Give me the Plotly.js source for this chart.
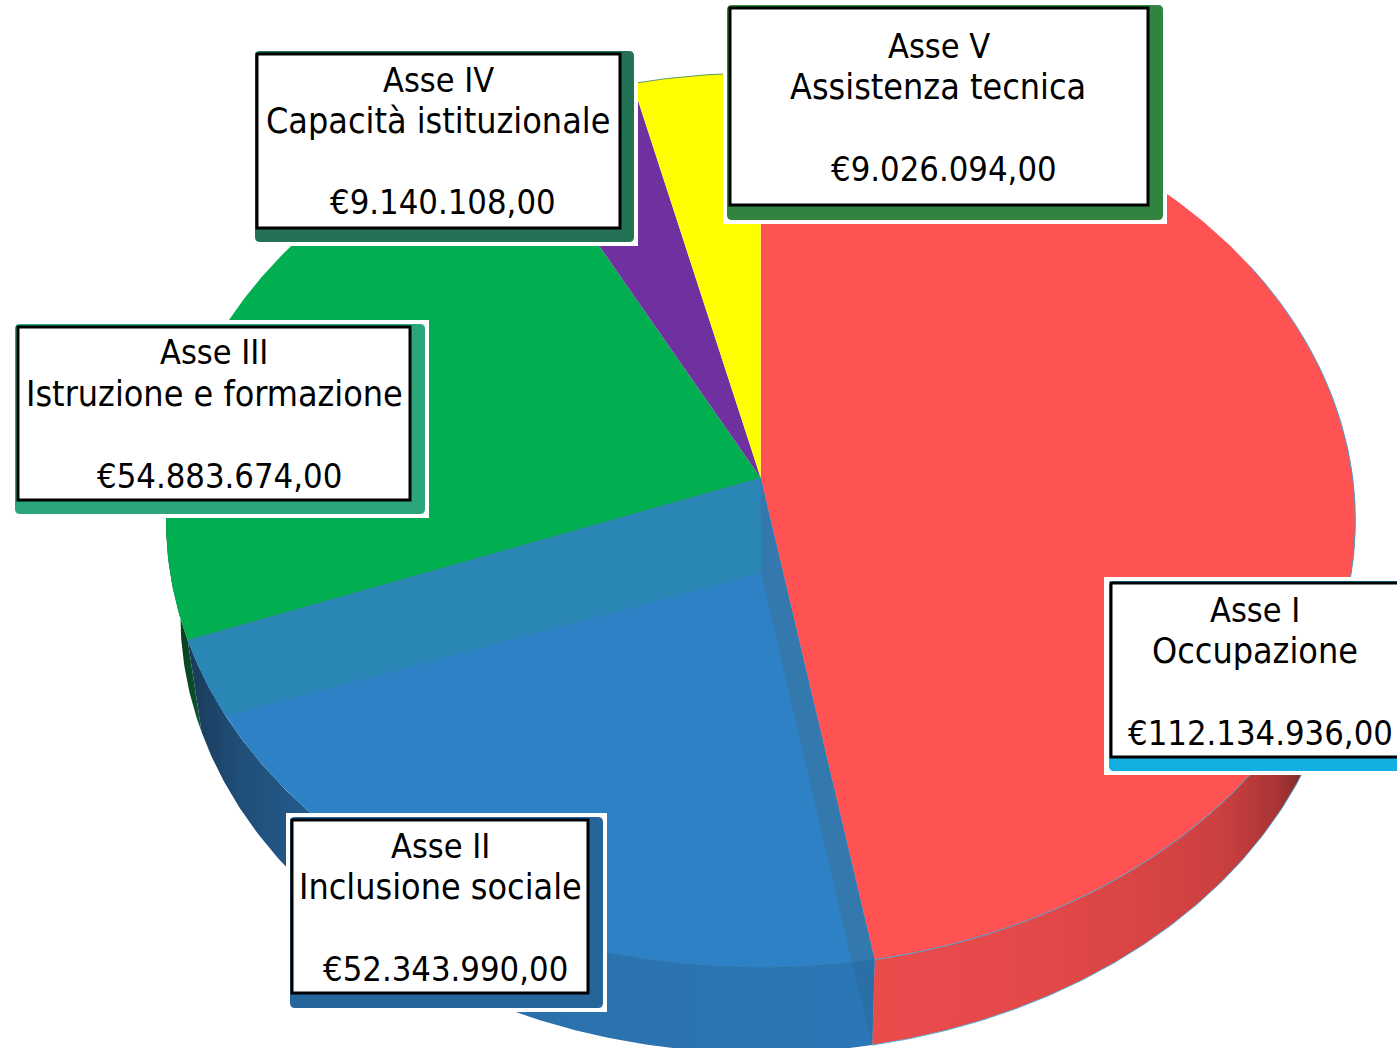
<!DOCTYPE html>
<html>
<head>
<meta charset="utf-8">
<script src="https://cdn.plot.ly/plotly-3.0.1.min.js"></script>
<style>html,body{margin:0;padding:0;background:#fff}#chart{width:1397px;height:1048px}</style>
</head>
<body>
<div id="chart"></div>
<script>
const axisNames = ['Asse I', 'Asse II', 'Asse III', 'Asse IV', 'Asse V'];
const axisTopics = ['Occupazione', 'Inclusione sociale', 'Istruzione e formazione', 'Capacità istituzionale', 'Assistenza tecnica'];
const amounts = [112134936, 52343990, 54883674, 9140108, 9026094];
const amountLabels = ['€112.134.936,00', '€52.343.990,00', '€54.883.674,00', '€9.140.108,00', '€9.026.094,00'];
const sliceColors = ['#FF5252', '#2E81C4', '#02AF50', '#7030A0', '#FFFF00'];
const shadowColors = ['#12B0E0', '#26649C', '#2AA67A', '#237256', '#31843F'];

const FONT = '"DejaVu Sans Condensed", "DejaVu Sans", sans-serif';
const LINE_SIZES = [34, 35.6, 34.3];
/* view projection of the tilted disc */
const TOP = {cx: 760.7, cy: 478, ax: 592, ay: 443.5};
const BOTTOM = {cx: 761, cy: 573, ax: 578, ay: 434.6};
const K = 0.095;

function rim(deg, p) {
  const t = deg * Math.PI / 180, u = Math.sin(t), v = Math.cos(t), w = 1 + K * v;
  return [p.cx + p.ax * u / w, p.cy - p.ay * v / w];
}
function arc(a, b, p) {
  const n = Math.max(2, Math.ceil(Math.abs(b - a) * 2)), out = [];
  for (let i = 0; i <= n; i++) out.push(rim(a + (b - a) * i / n, p));
  return out;
}
function poly(pts, color, extra) {
  return Object.assign({
    type: 'scatter', mode: 'lines', x: pts.map(q => q[0]), y: pts.map(q => q[1]),
    fill: 'toself', fillcolor: color, line: {width: 0}, hoverinfo: 'skip', showlegend: false
  }, extra || {});
}
function stroke(pts, color, width) {
  return {type: 'scatter', mode: 'lines', x: pts.map(q => q[0]), y: pts.map(q => q[1]),
    line: {color: color, width: width}, hoverinfo: 'skip', showlegend: false};
}
function grad(stops) {
  return {fillgradient: {type: 'horizontal', colorscale: stops}};
}

const total = amounts.reduce((a, b) => a + b, 0);
const edges = [0];
amounts.forEach(v => edges.push(edges[edges.length - 1] + v / total * 360));

const apex = [TOP.cx, TOP.cy], apexLow = [BOTTOM.cx, BOTTOM.cy];
const traces = [];

/* side walls */
traces.push(poly(arc(edges[2], 275, TOP).concat(arc(275, edges[2], BOTTOM)), '#0A3A20',
  grad([[0, '#062A14'], [1, '#0C5A30']])));
traces.push(poly(arc(edges[1], edges[2], TOP).concat(arc(edges[2], edges[1], BOTTOM)), '#2B77B5',
  grad([[0, '#1B3A58'], [0.07, '#1F4D76'], [0.2, '#245F92'], [0.38, '#2A70AA'], [1, '#2B77B5']])));
traces.push(poly(arc(edges[0] + 85, edges[1], TOP).concat(arc(edges[1], edges[0] + 85, BOTTOM)), '#E04848',
  grad([[0, '#EA4C4C'], [0.35, '#E34848'], [0.6, '#D64343'], [0.72, '#CC4040'], [0.84, '#A83434'], [0.9, '#7A2A2A'], [1, '#6E2222']])));

/* top faces */
for (let i = 0; i < amounts.length; i++) {
  traces.push(poly([apex].concat(arc(edges[i], edges[i + 1], TOP)), sliceColors[i]));
}

/* inner walls of the second slice */
const wallStart = edges[1] + 2, wallEnd = edges[2] - 10;
traces.push(poly([apex, apexLow].concat(arc(wallEnd, edges[2], TOP)), '#2A86B5'));
traces.push(poly([apex, apexLow].concat(arc(wallStart, edges[1], TOP)), '#3479AE'));
traces.push(poly([rim(wallStart, TOP), rim(edges[1], TOP), rim(edges[1], BOTTOM)], '#2B6FA8'));

/* rim and edge lines */
traces.push(stroke(arc(edges[1], 60, TOP), '#4FA3CC', 1));
traces.push(stroke(arc(edges[1], 100, BOTTOM), '#58B0D6', 1));
traces.push(stroke(arc(edges[1], edges[1] + 40, TOP), '#2A70A5', 1));
traces.push(stroke([rim(edges[2], TOP), apex], '#2A8A9A', 1));
traces.push(stroke(arc(edges[4], 360, TOP), '#5B9B6B', 1));

/* label boxes: halo, shadow, frame */
const boxes = [
  {halo: [1104, 577, 1420, 775], shadow: [1109, 581, 1420, 771], frame: [1111, 583, 1420, 757], lines: [[1255, 609.5], [1255, 650], [1260, 732.5]]},
  {halo: [286, 813, 607, 1012], shadow: [290, 817, 603, 1008], frame: [292, 820, 588, 993], lines: [[440, 845.5], [440, 886], [445, 968.5]]},
  {halo: [11, 320, 429, 518], shadow: [15, 324, 425, 514], frame: [18, 327, 410, 500], lines: [[214, 351.5], [214, 393], [219, 475.5]]},
  {halo: [252, 48, 638, 246], shadow: [255, 51, 634, 242], frame: [257, 54, 620, 228], lines: [[438, 79.5], [438, 120], [443, 201.5]]},
  {halo: [723, 2, 1167, 224], shadow: [727, 5, 1163, 220], frame: [730, 8, 1148, 205], lines: [[939, 45.5], [938, 86], [944, 168.5]]}
];
function rounded(b, r) {
  const [x0, y0, x1, y1] = b;
  return `M${x0 + r},${y0} L${x1 - r},${y0} Q${x1},${y0} ${x1},${y0 + r} L${x1},${y1 - r} Q${x1},${y1} ${x1 - r},${y1} L${x0 + r},${y1} Q${x0},${y1} ${x0},${y1 - r} L${x0},${y0 + r} Q${x0},${y0} ${x0 + r},${y0} Z`;
}
const shapes = [], annotations = [];
boxes.forEach((b, i) => {
  shapes.push({type: 'rect', xref: 'x', yref: 'y', x0: b.halo[0], y0: b.halo[1], x1: b.halo[2], y1: b.halo[3], fillcolor: '#FFFFFF', line: {width: 0}, layer: 'above'});
  shapes.push({type: 'path', xref: 'x', yref: 'y', path: rounded(b.shadow, 5), fillcolor: shadowColors[i], line: {width: 0}, layer: 'above'});
  shapes.push({type: 'rect', xref: 'x', yref: 'y', x0: b.frame[0], y0: b.frame[1], x1: b.frame[2], y1: b.frame[3], fillcolor: '#FFFFFF', line: {color: '#000000', width: 3}, layer: 'above'});
  [axisNames[i], axisTopics[i], amountLabels[i]].forEach((t, j) => {
    annotations.push({xref: 'x', yref: 'y', x: b.lines[j][0], y: b.lines[j][1], text: t, showarrow: false,
      xanchor: 'center', yanchor: 'middle', font: {family: FONT, size: LINE_SIZES[j], color: '#000000'}});
  });
});

Plotly.newPlot('chart', traces, {
  width: 1397, height: 1048, autosize: false,
  margin: {l: 0, r: 0, t: 0, b: 0},
  paper_bgcolor: '#FFFFFF', plot_bgcolor: '#FFFFFF',
  showlegend: false,
  xaxis: {range: [0, 1397], visible: false, fixedrange: true},
  yaxis: {range: [1048, 0], visible: false, fixedrange: true},
  shapes: shapes, annotations: annotations
}, {displayModeBar: false, staticPlot: true});
</script>
</body>
</html>
